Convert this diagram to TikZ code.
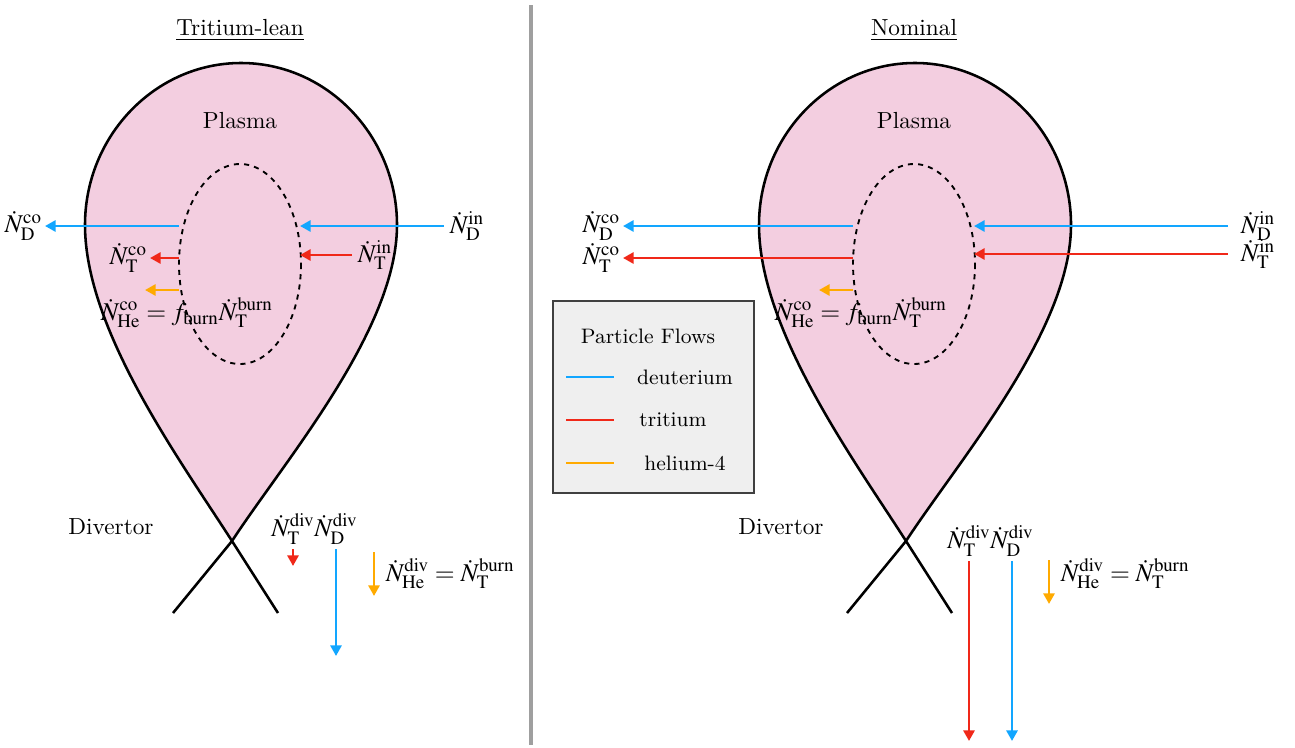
\documentclass[tikz,border=0pt]{standalone}
\usepackage{amsmath}
\usepackage{mathptmx}
\renewcommand{\rmdefault}{lmr}
\usepackage{tikz}
\usetikzlibrary{positioning, arrows.meta}
\definecolor{plasma_pink}{RGB}{243,206,224}
\definecolor{flow_d}{RGB}{18,166,255}
\definecolor{flow_t}{RGB}{240,40,25}
\definecolor{flow_he}{RGB}{255,170,0}
\definecolor{leg_gray}{RGB}{239,239,239}

\begin{document}
\begin{tikzpicture}[x=0.0151cm, y=-0.0151cm, >={Triangle[length=4.6pt, width=4.8pt]},
    wall/.style={line width=1.1pt, line join=round},
    fd/.style={->, line width=1.1pt, flow_d},
    ft/.style={->, line width=1.1pt, flow_t},
    fhe/.style={->, line width=1.1pt, flow_he},
    lbl/.style={inner sep=1pt, font=\fontsize{11}{13}\selectfont},
    ttl/.style={font=\normalsize}]
  \useasboundingbox (0,0) rectangle (1295,747);
  % the two plasma cross-sections
  \foreach \dx in {0,674} {
    \begin{scope}[shift={(\dx,0)}]
      \fill[plasma_pink] (232,541) .. controls (285,460) and (397,330) .. (397,225)
        .. controls (397,136) and (327,63) .. (241,63)
        .. controls (155,63) and (85,136) .. (85,225)
        .. controls (85,330) and (180,460) .. (232,541) -- cycle;
      \draw[wall] (173,613) -- (232,541) .. controls (285,460) and (397,330) .. (397,225)
        .. controls (397,136) and (327,63) .. (241,63)
        .. controls (155,63) and (85,136) .. (85,225)
        .. controls (85,330) and (180,460) .. (232,541) -- (278,613);
      \draw[line width=0.8pt, dashed, dash pattern=on 2.2pt off 2.2pt] (240,264) ellipse [x radius=61, y radius=100];
    \end{scope}
  }
  % divider
  \draw[gray!75, line width=1.6pt] (531,5) -- (531,745);
  % Tritium-lean
  \node[ttl] (ttlL) at (240,30) {\underline{Tritium-lean}};
  \node (plasmaL) at (240,121) {Plasma};
  \node (divL) at (111,527) {Divertor};
  \coordinate (eLdL) at (179,225); \coordinate (eRdL) at (300,225);
  \coordinate (eLtL) at (179,258); \coordinate (eRtL) at (300,254);
  \coordinate (eLheL) at (179,290); \coordinate (heEndL) at (145,290);
  \node[lbl, anchor=east] (NDcoL) at (45,226) {$\dot N^{\mathrm{co}}_{\mathrm{D}}$};
  \node[lbl, anchor=west] (NDinL) at (447,226) {$\dot N^{\mathrm{in}}_{\mathrm{D}}$};
  \node[lbl, anchor=east] (NTcoL) at (150,258) {$\dot N^{\mathrm{co}}_{\mathrm{T}}$};
  \node[lbl, anchor=west] (NTinL) at (355,255) {$\dot N^{\mathrm{in}}_{\mathrm{T}}$};
  \node[lbl] (NHecoL) at (187,313) {$\dot N^{\mathrm{co}}_{\mathrm{He}} = f_{\mathrm{burn}}\dot N^{\mathrm{burn}}_{\mathrm{T}}$};
  \draw[fd] (NDcoL -| eLdL) -- (NDcoL);
  \draw[fd, shorten <=1.5pt] (NDinL) -- (NDinL -| eRdL);
  \draw[ft] (NTcoL -| eLtL) -- (NTcoL);
  \draw[ft, shorten <=1.5pt] (NTinL) -- (NTinL -| eRtL);
  \draw[fhe] (eLheL) -- (heEndL);
  \node[lbl] (NTdivL) at (293,529) {$\dot N^{\mathrm{div}}_{\mathrm{T}}$};
  \node[lbl] (NDdivL) at (336,529) {$\dot N^{\mathrm{div}}_{\mathrm{D}}$};
  \coordinate (tEndL) at (293,566); \coordinate (dEndL) at (336,656);
  \coordinate (heTopL) at (374,552); \coordinate (heBotL) at (374,596);
  \draw[ft, shorten <=1pt] (NTdivL) -- (tEndL);
  \draw[fd, shorten <=1pt] (NDdivL) -- (dEndL);
  \draw[fhe] (heTopL) -- (heBotL);
  \node[lbl, anchor=west] (NHedivL) at (383,574) {$\dot N^{\mathrm{div}}_{\mathrm{He}} = \dot N^{\mathrm{burn}}_{\mathrm{T}}$};
  % Nominal
  \node[ttl] (ttlR) at (914,30) {\underline{Nominal}};
  \node (plasmaR) at (914,121) {Plasma};
  \node (divR) at (781,527) {Divertor};
  \coordinate (eLdR) at (853,225); \coordinate (eRdR) at (974,225);
  \coordinate (eLtR) at (853,258); \coordinate (eRtR) at (974,254);
  \coordinate (eLheR) at (853,290); \coordinate (heEndR) at (819,290);
  \node[lbl, anchor=east] (NDcoR) at (623,226) {$\dot N^{\mathrm{co}}_{\mathrm{D}}$};
  \node[lbl, anchor=west] (NDinR) at (1238,226) {$\dot N^{\mathrm{in}}_{\mathrm{D}}$};
  \node[lbl, anchor=east] (NTcoR) at (623,258) {$\dot N^{\mathrm{co}}_{\mathrm{T}}$};
  \node[lbl, anchor=west] (NTinR) at (1238,254) {$\dot N^{\mathrm{in}}_{\mathrm{T}}$};
  \node[lbl] (NHecoR) at (861,313) {$\dot N^{\mathrm{co}}_{\mathrm{He}} = f_{\mathrm{burn}}\dot N^{\mathrm{burn}}_{\mathrm{T}}$};
  \draw[fd] (NDcoR -| eLdR) -- (NDcoR);
  \draw[fd, shorten <=4.5pt] (NDinR) -- (NDinR -| eRdR);
  \draw[ft] (NTcoR -| eLtR) -- (NTcoR);
  \draw[ft, shorten <=4.5pt] (NTinR) -- (NTinR -| eRtR);
  \draw[fhe] (eLheR) -- (heEndR);
  \node[lbl] (NTdivR) at (969,541) {$\dot N^{\mathrm{div}}_{\mathrm{T}}$};
  \node[lbl] (NDdivR) at (1012,541) {$\dot N^{\mathrm{div}}_{\mathrm{D}}$};
  \coordinate (tEndR) at (969,741); \coordinate (dEndR) at (1012,741);
  \coordinate (heTopR) at (1049,560); \coordinate (heBotR) at (1049,604);
  \draw[ft, shorten <=1pt] (NTdivR) -- (tEndR);
  \draw[fd, shorten <=1pt] (NDdivR) -- (dEndR);
  \draw[fhe] (heTopR) -- (heBotR);
  \node[lbl, anchor=west] (NHedivR) at (1058,574) {$\dot N^{\mathrm{div}}_{\mathrm{He}} = \dot N^{\mathrm{burn}}_{\mathrm{T}}$};
  % legend
  \draw[draw=black!75, fill=leg_gray, line width=0.6pt] (553,301) rectangle (754,493);
  \node[font=\small] (legTtl) at (648,336) {Particle Flows};
  \foreach \c/\t/\y/\x in {flow_d/deuterium/377/685, flow_t/tritium/420/673, flow_he/helium-4/463/685} {
    \draw[\c, line width=1.1pt] (566,\y) -- (614,\y);
    \node[font=\small] at (\x,\y) {\t};
  }
\end{tikzpicture}
\end{document}
